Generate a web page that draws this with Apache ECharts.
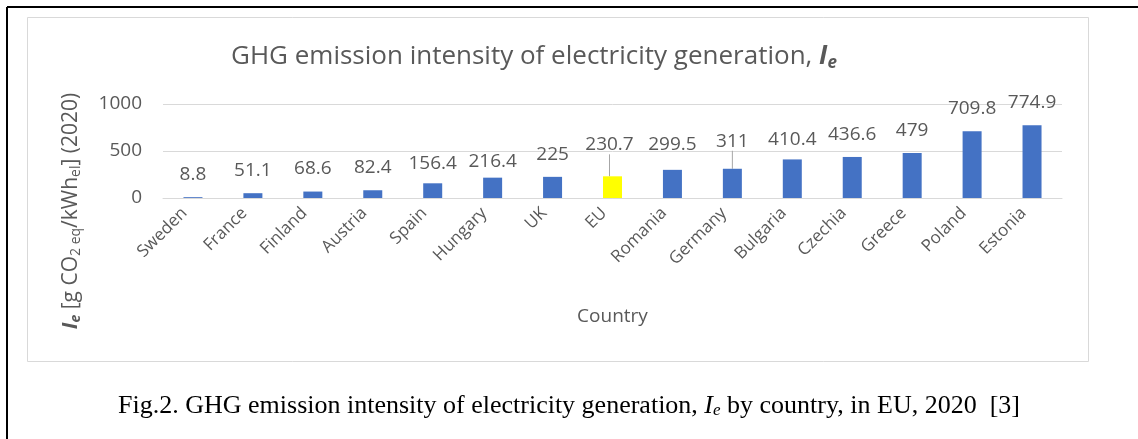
<!DOCTYPE html>
<html>
<head>
<meta charset="utf-8">
<script src="https://cdn.jsdelivr.net/npm/echarts@6/dist/echarts.min.js"></script>
<style>
  html, body { margin: 0; padding: 0; background: #fff; }
  #chart { width: 1138px; height: 439px; }
</style>
</head>
<body>
<div id="chart"></div>
<script>
// Countries ordered by emission intensity (EU average included)
const countries = ['Sweden', 'France', 'Finland', 'Austria', 'Spain', 'Hungary', 'UK', 'EU',
  'Romania', 'Germany', 'Bulgaria', 'Czechia', 'Greece', 'Poland', 'Estonia'];
// GHG emission intensity, g CO2eq / kWh_el, 2020
const intensity = [8.8, 51.1, 68.6, 82.4, 156.4, 216.4, 225, 230.7,
  299.5, 311, 410.4, 436.6, 479, 709.8, 774.9];
const yTicks = [0, 500, 1000];

const highlighted = 'EU';
const barBlue = '#4472C4';
const barYellow = '#FFFF00';
const textGrey = '#595959';
const lineGrey = '#D9D9D9';
const font = 'Open Sans';

// hand-placed value labels (px offsets), two of them with leader lines
const labelShift = {
  Spain: [0, 3], Hungary: [0, 6], EU: [-3, -9], Romania: [0, -3],
  Germany: [0, -5], Bulgaria: [0, 3]
};
const leaderLines = ['EU', 'Germany'];

const chart = echarts.init(document.getElementById('chart'), null, { renderer: 'canvas' });

const option = {
  animation: false,
  backgroundColor: '#fff',
  title: {
    text: '{t|GHG emission intensity of electricity generation, }{i|I}{s|e}',
    left: 226,
    top: 37,
    textStyle: {
      fontWeight: 'normal',
      rich: {
        t: { fontFamily: font, fontSize: 26, color: textGrey, fontWeight: 'normal' },
        i: { fontFamily: font, fontSize: 26, color: textGrey, fontWeight: 'bold', fontStyle: 'italic' },
        s: { fontFamily: font, fontSize: 17, color: textGrey, fontWeight: 'bold', fontStyle: 'italic', padding: [13, 0, 0, 0] }
      }
    }
  },
  grid: { left: 163, right: 76, top: 104, bottom: 241, containLabel: false },
  xAxis: {
    type: 'category',
    data: countries,
    axisLine: { lineStyle: { color: lineGrey, width: 1 } },
    axisTick: { show: false },
    axisLabel: {
      rotate: 45, fontFamily: font, fontSize: 17, color: textGrey,
      margin: 4, padding: [0, 12, 0, 0], interval: 0
    },
    name: 'Country',
    nameLocation: 'middle',
    nameGap: 109,
    nameTextStyle: { fontFamily: font, fontSize: 19, color: textGrey }
  },
  yAxis: {
    type: 'value',
    min: yTicks[0],
    max: yTicks[yTicks.length - 1],
    interval: yTicks[1] - yTicks[0],
    axisLine: { show: false },
    axisTick: { show: false },
    splitLine: { lineStyle: { color: lineGrey, width: 1 } },
    axisLabel: {
      fontFamily: font, fontSize: 19, color: textGrey, margin: 21,
      formatter: v => String(v)
    },
    name: '{b|I}{bs|e}{n| [g CO}{sub|2 eq}{n|/kWh}{sub|el}{n|] (2020)}',
    nameLocation: 'middle',
    nameRotate: 90,
    nameGap: 80,
    nameTextStyle: {
      padding: [0, 120, 0, 0],
      rich: {
        b: { fontFamily: font, fontSize: 21, color: textGrey, fontWeight: 'bold', fontStyle: 'italic' },
        bs: { fontFamily: font, fontSize: 14, color: textGrey, fontWeight: 'bold', fontStyle: 'italic', padding: [9, 0, 0, 0] },
        n: { fontFamily: font, fontSize: 21, color: textGrey },
        sub: { fontFamily: font, fontSize: 14, color: textGrey, padding: [9, 0, 0, 0] }
      }
    }
  },
  series: [{
    type: 'bar',
    barWidth: 19,
    data: countries.map((c, i) => ({
      value: intensity[i],
      itemStyle: { color: c === highlighted ? barYellow : barBlue },
      labelLine: { show: leaderLines.includes(c), lineStyle: { color: '#A6A6A6', width: 1 } }
    })),
    label: {
      show: true,
      position: 'top',
      distance: 13,
      fontFamily: font,
      fontSize: 19,
      color: textGrey
    },
    labelLayout: function (params) {
      const s = labelShift[countries[params.dataIndex]];
      return s ? { dx: s[0], dy: s[1] } : {};
    }
  }],
  graphic: [
    // outer frame (open on the right and bottom)
    { type: 'line', shape: { x1: 7, y1: 7, x2: 1138, y2: 7 }, style: { stroke: '#000', lineWidth: 2 } },
    { type: 'line', shape: { x1: 7, y1: 7, x2: 7, y2: 439 }, style: { stroke: '#000', lineWidth: 2 } },
    // chart area border
    { type: 'rect', shape: { x: 27.5, y: 17.5, width: 1061, height: 344 }, style: { fill: null, stroke: lineGrey, lineWidth: 1 }, z: -1 },
    // figure caption
    {
      type: 'text',
      left: 'center',
      top: 393,
      style: {
        text: '{r|Fig.2. GHG emission intensity of electricity generation, }{i|I}{s|e}{r| by country, in EU, 2020  [3]}',
        rich: {
          r: { fontFamily: 'Liberation Serif', fontSize: 26, fill: '#000' },
          i: { fontFamily: 'Liberation Serif', fontSize: 26, fill: '#000', fontStyle: 'italic' },
          s: { fontFamily: 'Liberation Serif', fontSize: 17, fill: '#000', fontStyle: 'italic', padding: [10, 0, 0, 0] }
        }
      }
    }
  ]
};

chart.setOption(option);
</script>
</body>
</html>
